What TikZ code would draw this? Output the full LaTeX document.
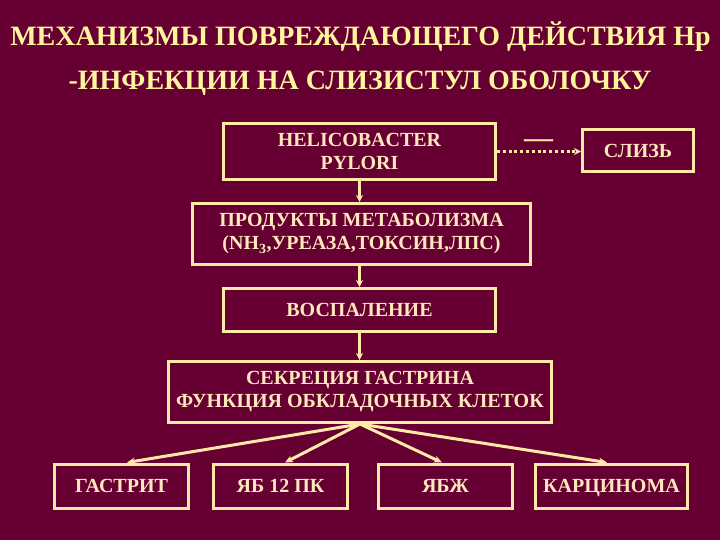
\documentclass[tikz,border=0pt]{standalone}
\usepackage{fontspec}
\setmainfont{Liberation Serif}
\newfontfamily\serifcyr[Script=Cyrillic]{Liberation Serif}
\usetikzlibrary{arrows.meta}
\definecolor{bg}{HTML}{660033}
\definecolor{edge}{HTML}{FFE9A6}
\definecolor{boxtext}{HTML}{FFE7BC}
\definecolor{titletext}{HTML}{FFF59C}
\tikzset{
  boxnode/.style={draw=edge, line width=3pt, text=boxtext, align=center,
    inner sep=0pt, font=\serifcyr\bfseries\fontsize{20}{23}\selectfont},
  oneline/.style={text height=13.5pt, text depth=0pt},
  titlenode/.style={text=titletext, inner sep=0pt, anchor=base,
    font=\serifcyr\bfseries\fontsize{28}{30}\selectfont},
  link/.style={draw=edge, line width=2.6pt, -{Stealth[length=7pt,width=7pt]}},
  fanlink/.style={draw=edge, line width=3pt, -{Stealth[length=8pt,width=7pt]}},
}
\begin{document}
\begin{tikzpicture}[x=1pt,y=-1pt]
\fill[bg] (0,0) rectangle (720,540);
\useasboundingbox (0,0) rectangle (720,540);

\node[titlenode] (t1) at (360.5,46) {МЕХАНИЗМЫ ПОВРЕЖДАЮЩЕГО ДЕЙСТВИЯ Hp};
\node[titlenode] (t2) at (360,90) {-ИНФЕКЦИИ НА СЛИЗИСТУЛ ОБОЛОЧКУ};

\node[boxnode, minimum width=272pt, minimum height=56pt] (hp) at (359.5,151.5) {HELICOBACTER\\PYLORI};
\node[boxnode, oneline, minimum width=111pt, minimum height=42pt] (sl) at (638,151) {СЛИЗЬ};
\node[boxnode, minimum width=338pt, minimum height=61pt] (pm) at (361.5,234) {ПРОДУКТЫ МЕТАБОЛИЗМА\\(NH\textsubscript{3},УРЕАЗА,ТОКСИН,ЛПС)};
\node[boxnode, oneline, minimum width=272pt, minimum height=43pt] (vo) at (359.5,310) {ВОСПАЛЕНИЕ};
\node[boxnode, minimum width=383pt, minimum height=61pt] (sk) at (360,392) {СЕКРЕЦИЯ ГАСТРИНА\\ФУНКЦИЯ ОБКЛАДОЧНЫХ КЛЕТОК};

\node[boxnode, oneline, minimum width=134pt, minimum height=44pt] (ga) at (121.5,486) {ГАСТРИТ};
\node[boxnode, oneline, minimum width=134pt, minimum height=44pt] (yb) at (280.5,486) {ЯБ 12 ПК};
\node[boxnode, oneline, minimum width=134pt, minimum height=44pt] (yz) at (445.5,486) {ЯБЖ};
\node[boxnode, oneline, minimum width=152pt, minimum height=44pt] (ka) at (611.5,486) {КАРЦИНОМА};

\node[text=edge, inner sep=0pt, font=\bfseries\fontsize{29}{30}\selectfont] (minus) at (538.5,144) {—};

\draw[draw=edge, line width=3pt, dash pattern=on 3pt off 2.8pt, -{Stealth[length=7pt,width=7pt]}] (hp.east) -- (sl.west |- hp.east);
\draw[link] (hp.south) -- (pm.north -| hp.south);
\draw[link] (pm.south -| vo.north) -- (vo.north);
\draw[link] (vo.south) -- (sk.north -| vo.south);

\coordinate (fan) at (sk.south);
\draw[fanlink] (fan) -- ([xshift=5.5pt]ga.north);
\draw[fanlink] (fan) -- ([xshift=4.5pt]yb.north);
\draw[fanlink] (fan) -- ([xshift=-3.5pt]yz.north);
\draw[fanlink] (fan) -- ([xshift=-4.5pt]ka.north);
\end{tikzpicture}
\end{document}
